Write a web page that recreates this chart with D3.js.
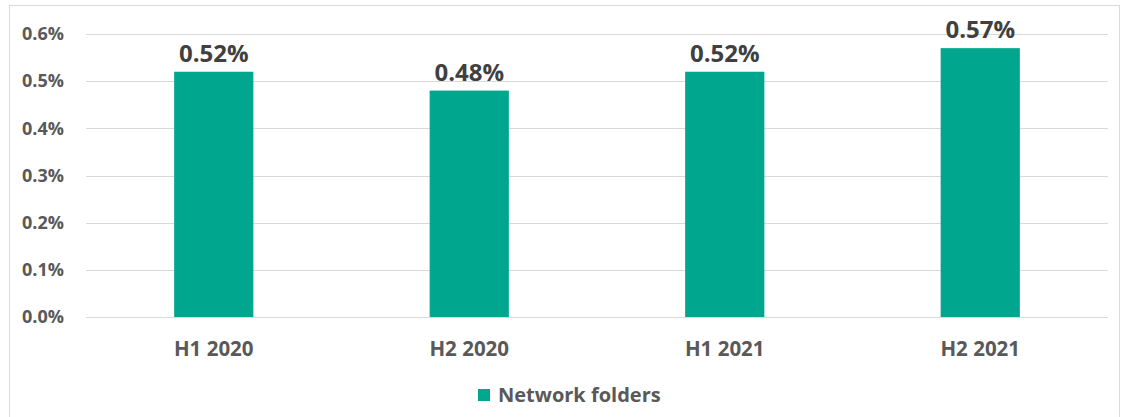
<!DOCTYPE html>
<html>
<head>
<meta charset="utf-8">
<script src="https://cdn.jsdelivr.net/npm/d3@7"></script>
<style>
  body { margin: 0; background: #fff; }
  svg text { font-family: "Open Sans", "Noto Sans", sans-serif; }
</style>
</head>
<body>
<div id="chart_container"></div>
<script>
// data
const periods = ["H1 2020", "H2 2020", "H1 2021", "H2 2021"];
const shares = [0.52, 0.48, 0.52, 0.57];
const yTicks = [0, 0.1, 0.2, 0.3, 0.4, 0.5, 0.6];
const seriesName = "Network folders";

const W = 1124, H = 417;
const PLOT = { left: 86, right: 1108, top: 34, bottom: 317 };
const BAR_COLOR = "#00a78e";

const svg = d3.select("#chart_container").append("svg")
  .attr("width", W).attr("height", H);

// outer frame
svg.append("rect")
  .attr("x", 9.5).attr("y", 5.5)
  .attr("width", 1110).attr("height", 420)
  .attr("fill", "#fff").attr("stroke", "#d9d9d9");

const x = d3.scaleBand()
  .domain(periods)
  .range([PLOT.left, PLOT.right])
  .paddingInner(0.69).paddingOuter(0.345);

const y = d3.scaleLinear()
  .domain([0, 0.6])
  .range([PLOT.bottom, PLOT.top]);

// gridlines
svg.append("g")
  .selectAll("line")
  .data(yTicks)
  .join("line")
  .attr("x1", PLOT.left).attr("x2", PLOT.right)
  .attr("y1", d => Math.round(y(d)) + 0.5)
  .attr("y2", d => Math.round(y(d)) + 0.5)
  .attr("stroke", "#d9d9d9");

// y axis labels
const yAxis = svg.append("g")
  .attr("transform", `translate(${PLOT.left - 22},0)`)
  .call(d3.axisLeft(y).tickValues(yTicks).tickFormat(d => d.toFixed(1) + "%").tickSize(0));
yAxis.select(".domain").remove();
yAxis.selectAll("text")
  .attr("x", 0)
  .style("font-size", "18px").style("font-weight", 700)
  .style("fill", "#595959");

// x axis labels
const xAxis = svg.append("g")
  .attr("transform", `translate(0,${PLOT.bottom + 24})`)
  .call(d3.axisBottom(x).tickSize(0));
xAxis.select(".domain").remove();
xAxis.selectAll("text")
  .attr("y", 0).attr("dy", "0.71em")
  .style("font-size", "20.5px").style("font-weight", 700)
  .style("fill", "#595959");

// bars
svg.selectAll(".bar")
  .data(shares)
  .join("rect")
  .attr("class", "bar")
  .attr("x", (d, i) => x(periods[i]))
  .attr("y", d => y(d))
  .attr("width", x.bandwidth())
  .attr("height", d => y(0) - y(d))
  .attr("fill", BAR_COLOR);

// value labels
svg.selectAll(".label")
  .data(shares)
  .join("text")
  .attr("class", "label")
  .attr("x", (d, i) => x(periods[i]) + x.bandwidth() / 2)
  .attr("y", d => y(d) - 10)
  .attr("text-anchor", "middle")
  .style("font-size", "24px").style("font-weight", 700)
  .style("fill", "#404040")
  .text(d => d.toFixed(2) + "%");

// legend
const legend = svg.append("g").attr("transform", "translate(478,389)");
legend.append("rect")
  .attr("width", 12).attr("height", 12)
  .attr("fill", BAR_COLOR);
legend.append("text")
  .attr("x", 20).attr("y", 13)
  .style("font-size", "20px").style("font-weight", 700)
  .style("fill", "#595959")
  .text(seriesName);
</script>
</body>
</html>
